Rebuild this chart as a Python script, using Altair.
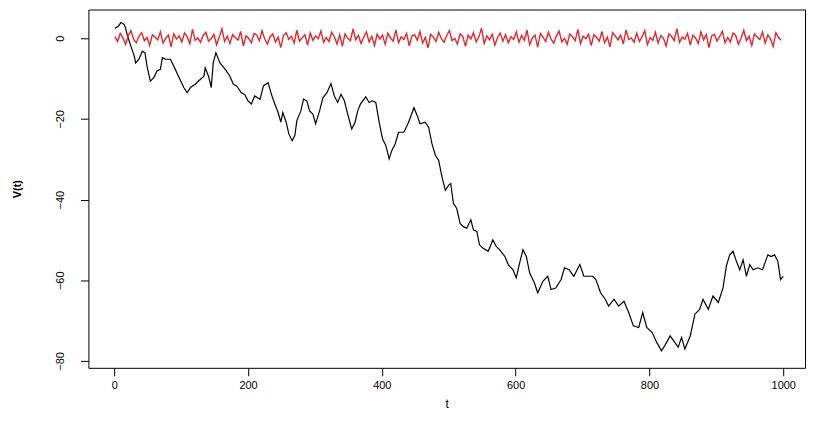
import altair as alt
import pandas as pd

# Random walk (black)
walk_t = [1, 6, 10, 15, 17, 20, 25, 30, 32, 37, 42, 46, 49, 54, 59, 64, 69, 72, 77, 84,
          89, 96, 104, 109, 114, 121, 126, 134, 136, 141, 145, 148, 152, 158, 166, 173, 178, 183, 190, 195,
          200, 205, 210, 218, 223, 230, 235, 240, 245, 249, 252, 257, 261, 266, 270, 273, 279, 283, 288, 292,
          297, 301, 307, 312, 318, 324, 329, 334, 339, 344, 349, 355, 360, 364, 368, 376, 381, 386, 391, 396,
          401, 406, 411, 415, 420, 425, 433, 440, 448, 453, 457, 465, 470, 475, 480, 485, 490, 495, 500, 503,
          507, 512, 517, 522, 527, 533, 537, 542, 546, 551, 559, 566, 571, 576, 584, 589, 596, 601, 606, 611,
          616, 621, 628, 633, 641, 648, 653, 660, 668, 673, 680, 687, 696, 702, 715, 720, 727, 734, 739, 747,
          754, 762, 769, 776, 784, 790, 796, 804, 811, 818, 823, 831, 838, 843, 848, 853, 861, 868, 875, 880,
          888, 895, 903, 910, 915, 920, 925, 930, 935, 940, 945, 950, 955, 962, 969, 977, 982, 987, 992, 996,
          1000]
walk_v = [2.5, 3.0, 3.9, 3.4, 2.5, 0.5, -2.0, -4.4, -6.1, -5.2, -3.2, -3.6, -6.9, -10.6, -9.8, -8.1, -7.7, -4.8, -5.2, -5.2,
          -6.9, -9.4, -12.2, -13.5, -12.2, -11.4, -10.6, -9.4, -7.3, -9.4, -12.2, -6.1, -3.6, -6.1, -7.7, -9.4, -11.4, -11.8, -13.5, -13.9,
          -15.5, -16.3, -14.3, -15.1, -11.8, -11.0, -13.9, -16.3, -18.4, -20.8, -18.4, -20.8, -23.7, -25.4, -24.1, -20.4, -18.0, -15.1, -15.5, -18.0,
          -18.8, -21.2, -18.0, -14.7, -13.5, -11.2, -14.3, -15.9, -13.9, -15.5, -18.8, -22.5, -20.8, -18.0, -16.3, -14.5, -15.9, -15.5, -15.9, -20.8,
          -24.9, -26.6, -29.9, -27.8, -26.2, -23.3, -23.3, -20.8, -17.2, -19.2, -21.2, -20.8, -22.1, -26.2, -29.0, -30.3, -34.4, -37.7, -36.4, -36.0,
          -40.9, -42.2, -45.9, -46.7, -47.1, -45.0, -47.5, -47.9, -51.2, -52.0, -52.8, -50.0, -51.6, -52.4, -54.1, -56.1, -57.4, -59.4, -55.7, -52.4,
          -54.1, -58.2, -60.6, -63.1, -60.2, -59.0, -62.3, -61.9, -59.8, -56.9, -57.4, -59.0, -56.1, -59.0, -59.0, -59.8, -63.1, -64.7, -66.4, -64.7,
          -66.4, -65.2, -68.0, -71.3, -71.7, -68.0, -71.7, -72.9, -75.4, -77.5, -76.2, -73.8, -75.4, -76.6, -74.2, -77.0, -73.8, -68.4, -67.2, -64.7,
          -67.2, -63.9, -65.5, -61.9, -56.5, -53.7, -52.8, -55.3, -57.4, -54.9, -59.0, -56.1, -57.4, -56.9, -57.4, -53.7, -54.1, -53.7, -55.3, -59.8,
          -59.0]

# White noise (red), one value every 4 steps
noise_v = [0.4, -0.8, 1.2, 0.1, -1.5, 0.7, 1.9, -0.3, -1.1, 0.5, 1.4, -0.6, 0.2, -1.8, 0.9, 0.3, -0.4, 1.6, -1.2, 0.0, 0.8, -2.1, 1.1, -0.2, 0.6,
           -0.9, 1.3, 0.4, -1.4, 2.2, -0.5, 0.1, -1.0, 0.7, 1.5, -0.7, -0.1, 1.0, -1.6, 0.3, 2.4, -0.8, 0.5, -1.3, 0.9, 0.2, -0.4, 1.7, -1.9, 0.6,
           0.0, -1.1, 1.2, 0.8, -0.6, 1.9, -0.2, -1.5, 0.4, 1.1, -0.9, 0.3, -2.3, 0.7, 1.4, -0.3, 0.5, -1.2, 2.0, -0.7, 0.1, 0.9, -1.7, 1.3, -0.5,
           0.6, -0.1, 1.8, -1.0, 0.2, -0.8, 1.5, 0.4, -1.4, 0.9, -2.0, 1.1, 0.0, -0.6, 2.3, -0.4, 0.7, -1.3, 0.3, 1.6, -0.9, 0.5, -1.8, 1.0, -0.2,
           0.8, -1.5, 1.3, 0.1, -0.7, 2.1, -1.1, 0.4, -0.3, 1.2, -1.9, 0.6, 0.9, -0.5, 1.7, -1.2, 0.2, -2.4, 1.0, 0.3, -0.8, 1.5, -0.1, -1.0, 0.7,
           1.9, -0.6, 0.0, -1.4, 1.1, 0.5, -2.0, 0.8, -0.2, 1.4, -0.9, 0.3, 2.5, -1.3, 0.6, -0.4, 1.0, -1.7, 0.2, 1.3, -0.7, 0.9, -1.1, 0.4, -0.3,
           1.6, -1.0, 0.7, -0.5, 2.0, -1.6, 0.1, 0.8, -2.2, 1.2, 0.3, -0.8, 1.5, -0.2, -1.2, 0.6, 1.8, -0.9, 0.0, -1.5, 1.1, 0.4, -0.6, 2.2, -1.3,
           0.5, -0.1, 1.0, -1.8, 0.9, 0.2, -0.7, 1.7, -1.1, 0.3, -2.1, 1.4, 0.6, -0.4, 0.8, -1.4, 2.1, -0.3, 0.1, -1.0, 1.3, -0.8, 0.4, 1.9, -1.6,
           0.2, -0.5, 1.5, -1.2, 0.7, 0.0, -1.9, 1.1, 0.5, -0.6, 2.4, -1.0, 0.3, -0.2, 1.2, -1.7, 0.8, 0.1, -1.3, 1.6, -0.4, 0.9, -2.3, 0.6, 1.0,
           -0.7, 0.4, 1.8, -1.1, 0.2, -0.9, 1.3, 0.7, -1.5, 0.0, 2.0, -0.6, 0.5, -1.8, 1.1, 0.3, -0.3, 1.6, -1.2, 0.8, -0.1, -2.0, 1.4, 0.2, -0.5]
noise_t = list(range(1, 1001, 4))

x_ticks = [0, 200, 400, 600, 800, 1000]
y_ticks = [0, -20, -40, -60, -80]

walk = pd.DataFrame({"t": walk_t, "v": walk_v})
noise = pd.DataFrame({"t": noise_t, "v": noise_v})

FONT = "Liberation Sans"

xs = alt.Scale(domain=[-38.6, 1032.6], nice=False, zero=False)
ys = alt.Scale(domain=[-81.7, 7.14], nice=False, zero=False)

xaxis = alt.Axis(values=x_ticks, format="d", title="t", grid=False, domain=False, tickSize=8,
                 tickColor="black", labelColor="black", labelFont=FONT, labelFontSize=11,
                 labelPadding=4, titleFont=FONT, titleFontSize=12, titleFontWeight="normal",
                 titleColor="black", titlePadding=8, labelFlush=False)
yaxis = alt.Axis(values=y_ticks, format="d", title="V(t)", grid=False, domain=False, tickSize=8,
                 tickColor="black", labelColor="black", labelFont=FONT, labelFontSize=11,
                 labelAngle=-90, labelAlign="center", labelBaseline="bottom", labelPadding=15,
                 titleFont=FONT, titleFontSize=11, titleFontWeight="bold", titleColor="black",
                 titlePadding=32, labelFlush=False)

black = alt.Chart(walk).mark_line(color="black", strokeWidth=1.2, clip=True).encode(
    x=alt.X("t:Q", scale=xs, axis=xaxis),
    y=alt.Y("v:Q", scale=ys, axis=yaxis),
)
red = alt.Chart(noise).mark_line(color="#e3262b", strokeWidth=1.4, clip=True).encode(
    x=alt.X("t:Q", scale=xs),
    y=alt.Y("v:Q", scale=ys),
)

chart = (black + red).properties(
    width=722, height=361,
    padding={"left": 81, "top": 0, "right": 4, "bottom": 44},
    autosize=alt.AutoSizeParams(type="none"),
    background="white",
).configure_view(stroke="black", strokeWidth=1)

chart.save("out.html", embed_options={"renderer": "svg", "actions": False})
